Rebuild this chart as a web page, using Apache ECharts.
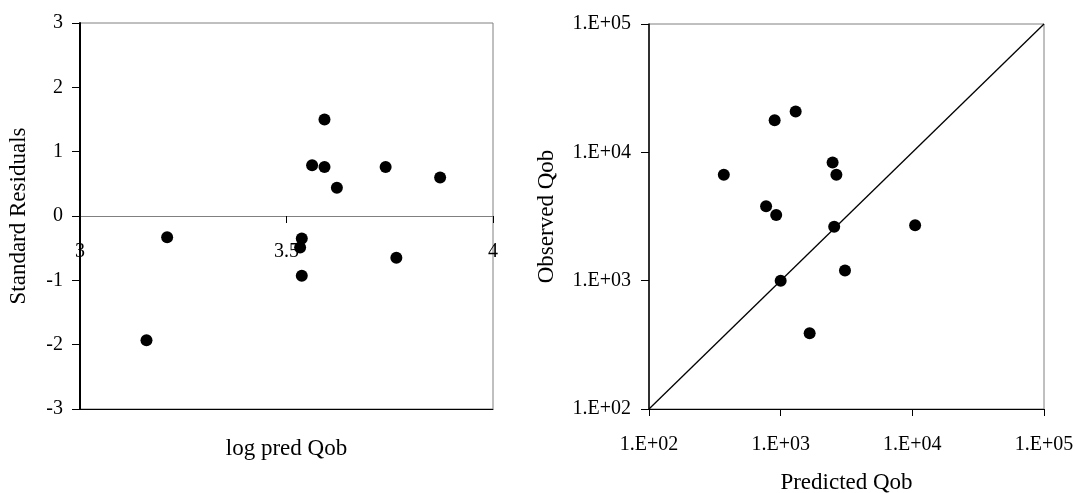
<!DOCTYPE html>
<html>
<head>
<meta charset="utf-8">
<script src="https://cdn.jsdelivr.net/npm/echarts@6/dist/echarts.min.js"></script>
<style>
html,body{margin:0;padding:0;background:#fff;}
#chart{width:1076px;height:493px;}
</style>
</head>
<body>
<div id="chart"></div>
<script>
// Left panel: standard residuals vs log predicted Qob
var logPredQob = [3.211, 3.161, 3.592, 3.562, 3.592, 3.622, 3.740, 3.872, 3.537, 3.533, 3.537, 3.766];
var standardResiduals = [-0.33, -1.93, 1.50, 0.79, 0.76, 0.44, 0.76, 0.60, -0.35, -0.49, -0.93, -0.65];

// Right panel: observed vs predicted Qob (log-log)
var predictedQob = [370, 900, 1300, 2480, 2650, 775, 925, 2550, 10500, 1000, 3080, 1660];
var observedQob  = [6700, 17800, 20800, 8350, 6700, 3800, 3250, 2630, 2700, 1000, 1200, 390];
var oneToOneLine = [100, 100000];

var logTickValues = [100, 1000, 10000, 100000];
var logTickLabels = ['1.E+02', '1.E+03', '1.E+04', '1.E+05'];

var FONT = '"Liberation Serif", "Times New Roman", serif';
var GREY = '#808080';

// left grid geometry (x axis crosses y = 0 at the middle of the plot)
var G0 = {left: 80, top: 23, width: 413, height: 386};
var zeroOffset = -G0.height / 2;

function logLabel(v) {
  for (var i = 0; i < logTickValues.length; i++) {
    if (Math.abs(v - logTickValues[i]) / logTickValues[i] < 1e-6) return logTickLabels[i];
  }
  return '';
}

var chart = echarts.init(document.getElementById('chart'), null, {renderer: 'canvas'});

var option = {
  animation: false,
  backgroundColor: '#fff',
  textStyle: {fontFamily: FONT, color: '#000'},
  grid: [
    {left: G0.left, top: G0.top, width: G0.width, height: G0.height, show: true, borderColor: GREY, borderWidth: 1, containLabel: false, outerBoundsMode: 'none'},
    {left: 649, top: 24, width: 395, height: 385, show: true, borderColor: GREY, borderWidth: 1, containLabel: false, outerBoundsMode: 'none'}
  ],
  xAxis: [
    {
      gridIndex: 0, type: 'value', min: 3, max: 4, interval: 0.5,
      position: 'bottom', offset: zeroOffset,
      axisLine: {onZero: false, lineStyle: {color: GREY, width: 1}},
      axisTick: {show: true, length: 7, lineStyle: {color: '#000', width: 1}},
      axisLabel: {fontFamily: FONT, fontSize: 20, color: '#000', margin: 26, showMinLabel: true, showMaxLabel: true, hideOverlap: false},
      splitLine: {show: false},
      name: 'log pred Qob', nameLocation: 'middle', nameGap: 221,
      nameTextStyle: {fontFamily: FONT, fontSize: 23, color: '#000'}
    },
    {
      gridIndex: 0, type: 'value', min: 3, max: 4, position: 'bottom',
      axisLine: {onZero: false, lineStyle: {color: '#000', width: 1}},
      axisTick: {show: false}, axisLabel: {show: false}, splitLine: {show: false}
    },
    {
      gridIndex: 1, type: 'log', logBase: 10, min: 100, max: 100000,
      axisLine: {onZero: false, lineStyle: {color: '#000', width: 1}},
      axisTick: {show: true, length: 7, lineStyle: {color: '#000', width: 1}},
      minorTick: {show: false},
      axisLabel: {fontFamily: FONT, fontSize: 20, color: '#000', margin: 26, formatter: logLabel, showMinLabel: true, showMaxLabel: true},
      splitLine: {show: false},
      name: 'Predicted Qob', nameLocation: 'middle', nameGap: 62,
      nameTextStyle: {fontFamily: FONT, fontSize: 23, color: '#000'}
    }
  ],
  yAxis: [
    {
      gridIndex: 0, type: 'value', min: -3, max: 3, interval: 1,
      axisLine: {show: true, onZero: false, lineStyle: {color: '#000', width: 2}},
      axisTick: {show: true, length: 8, lineStyle: {color: '#000', width: 1}},
      axisLabel: {fontFamily: FONT, fontSize: 20, color: '#000', margin: 17},
      splitLine: {show: false},
      name: 'Standard Residuals', nameLocation: 'middle', nameGap: 50,
      nameTextStyle: {fontFamily: FONT, fontSize: 23, color: '#000'}
    },
    {
      gridIndex: 1, type: 'log', logBase: 10, min: 100, max: 100000,
      axisLine: {show: true, onZero: false, lineStyle: {color: '#000', width: 1.5}},
      axisTick: {show: true, length: 8, lineStyle: {color: '#000', width: 1}},
      minorTick: {show: false},
      axisLabel: {fontFamily: FONT, fontSize: 20, color: '#000', margin: 18, formatter: logLabel},
      splitLine: {show: false},
      name: 'Observed Qob', nameLocation: 'middle', nameGap: 91,
      nameTextStyle: {fontFamily: FONT, fontSize: 23, color: '#000'}
    }
  ],
  series: [
    {
      type: 'scatter', xAxisIndex: 0, yAxisIndex: 0,
      data: logPredQob.map(function (x, i) { return [x, standardResiduals[i]]; }),
      symbol: 'circle', symbolSize: 12,
      itemStyle: {color: '#000', opacity: 1}, z: 5
    },
    {
      type: 'line', xAxisIndex: 2, yAxisIndex: 1,
      data: oneToOneLine.map(function (v) { return [v, v]; }),
      showSymbol: false, symbol: 'none',
      lineStyle: {color: '#000', width: 1.3}, clip: false, z: 3
    },
    {
      type: 'scatter', xAxisIndex: 2, yAxisIndex: 1,
      data: predictedQob.map(function (x, i) { return [x, observedQob[i]]; }),
      symbol: 'circle', symbolSize: 12,
      itemStyle: {color: '#000', opacity: 1}, z: 5
    }
  ]
};
chart.setOption(option);
</script>
</body>
</html>
